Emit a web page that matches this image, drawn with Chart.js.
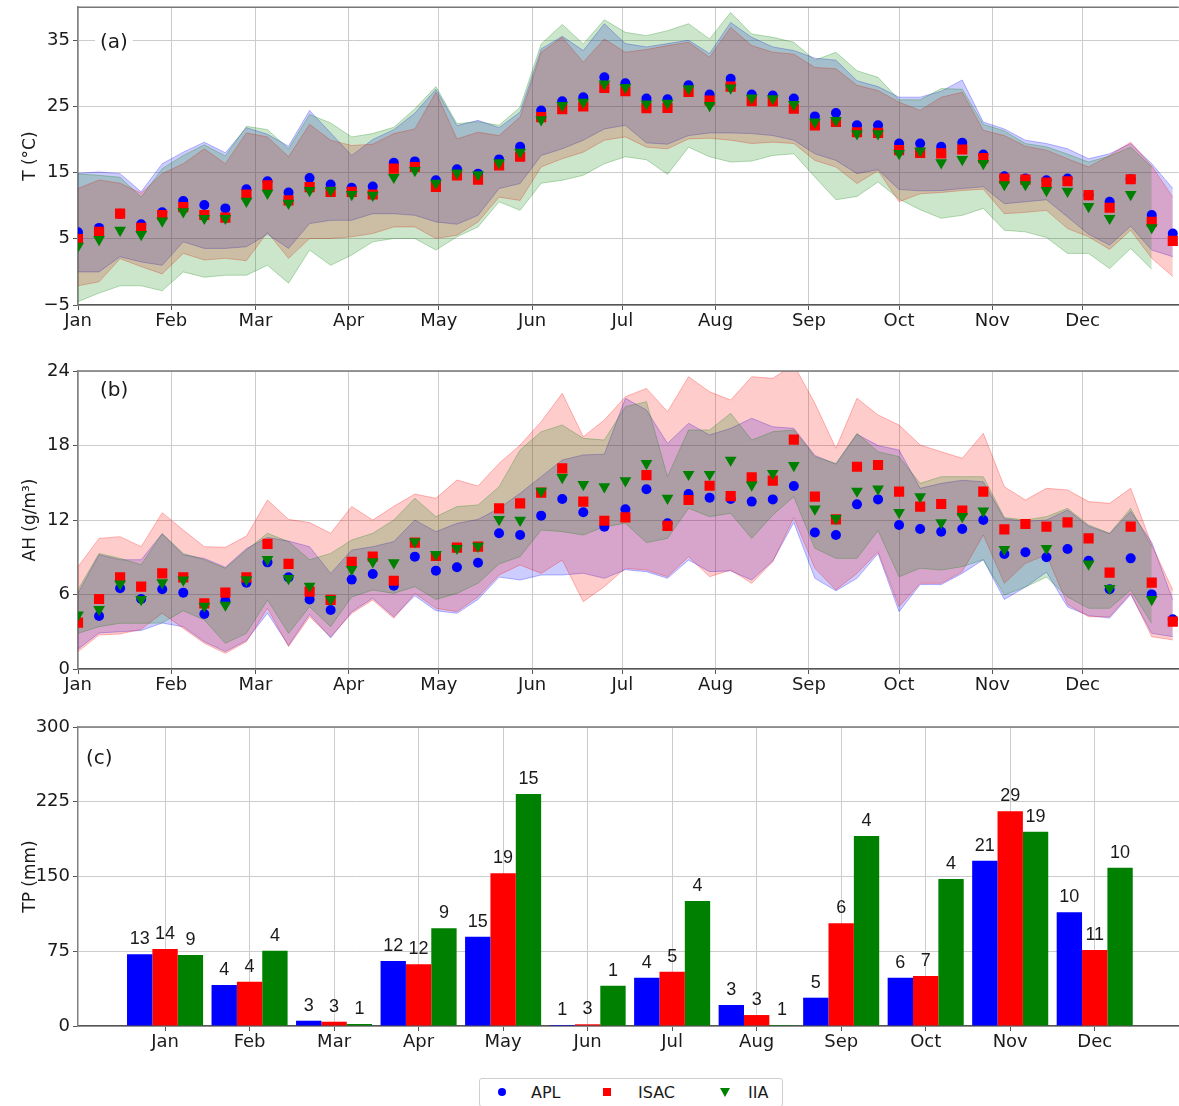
<!DOCTYPE html>
<html>
<head>
<meta charset="utf-8">
<title>Weekly temperature, absolute humidity and monthly precipitation</title>
<script src="https://cdn.jsdelivr.net/npm/chart.js@4.4.1/dist/chart.umd.min.js"></script>
<style>
  html, body { margin: 0; padding: 0; background: #fff; }
  #fig { position: relative; width: 1179px; height: 1106px; overflow: hidden; background: #fff; }
  #fig canvas { position: absolute; left: 0; }
  #legend {
    position: absolute; left: 479px; top: 1078px; width: 302px; height: 27px;
    border: 1px solid #cfcfcf; border-radius: 3px; background: #fff;
    font: 16px "DejaVu Sans", sans-serif; color: #1a1a1a;
  }
  #legend .item { position: absolute; top: 0; height: 27px; line-height: 27px; }
  #legend .mk { position: absolute; }
  .mk.circle { width: 8px; height: 8px; border-radius: 50%; background: #0000ff; top: 9px; }
  .mk.square { width: 8px; height: 8px; background: #ff0000; top: 9px; }
  .mk.tri { width: 0; height: 0; border-left: 5px solid transparent; border-right: 5px solid transparent; border-top: 9px solid #008000; top: 9px; }
</style>
</head>
<body>
<div id="fig">
  <canvas id="cT" width="1186" height="345" style="top:0px"></canvas>
  <canvas id="cAH" width="1186" height="345" style="top:360px"></canvas>
  <canvas id="cTP" width="1186" height="350" style="top:715px"></canvas>
  <div id="legend">
    <span class="mk circle" style="left:18px"></span><span class="item" style="left:51px">APL</span>
    <span class="mk square" style="left:123px"></span><span class="item" style="left:158px">ISAC</span>
    <span class="mk tri" style="left:240px"></span><span class="item" style="left:268px">IIA</span>
  </div>
</div>
<script>
// ---- calendar ----
const MONTHS = ['Jan', 'Feb', 'Mar', 'Apr', 'May', 'Jun', 'Jul', 'Aug', 'Sep', 'Oct', 'Nov', 'Dec'];
const MONTH_START_DAY = [0, 31, 59, 90, 120, 151, 181, 212, 243, 273, 304, 334];
const N_WEEKS = 53;
const WEEK_DAY = Array.from({ length: N_WEEKS }, (_, i) => i * 7);   // weekly samples from 1 Jan

// ---- (a) air temperature, weekly mean (°C) ----
const T_APL = [6.0, 6.65, 8.8, 7.2, 9.0, 10.7, 10.1, 9.6, 12.5, 13.7,
  12.0, 14.2, 13.2, 12.7, 12.9, 16.5, 16.7, 13.85, 15.5, 14.85,
  17.0, 18.9, 24.4, 25.8, 26.4, 29.4, 28.5, 26.2, 26.1, 28.2,
  26.8, 29.2, 26.8, 26.65, 26.2, 23.5, 24.0, 22.15, 22.15, 19.4,
  19.4, 18.9, 19.5, 17.75, 14.45, 14.1, 13.85, 14.1, 11.6, 10.6,
  14.0, 8.6, 5.8];
const T_ISAC = [4.95, 6.05, 8.8, 6.65, 8.6, 9.8, 8.6, 8.2, 11.7, 13.1,
  10.8, 12.8, 12.1, 12.1, 11.7, 15.6, 15.85, 12.85, 14.6, 13.95,
  16.1, 17.4, 23.4, 24.6, 25.0, 27.8, 27.3, 24.75, 24.8, 27.2,
  25.9, 28.0, 25.8, 25.75, 24.65, 22.15, 22.65, 21.1, 21.0, 18.4,
  18.0, 17.9, 18.5, 17.2, 14.1, 13.95, 13.5, 13.7, 11.6, 9.7,
  14.0, 7.55, 4.7];
const T_IIA = [3.9, 4.9, 6.3, 5.65, 7.7, 9.1, 8.1, 8.1, 10.7, 11.9,
  10.4, 12.3, 12.3, 11.7, 11.6, 14.3, 15.35, 13.4, 14.95, 14.7,
  16.5, 18.1, 23.0, 25.15, 25.65, 28.4, 27.9, 25.4, 25.5, 27.7,
  25.15, 27.8, 26.3, 26.2, 25.3, 22.65, 22.9, 20.9, 20.9, 17.9,
  18.3, 16.5, 17.0, 16.4, 13.2, 13.2, 12.3, 12.2, 9.9, 8.1,
  11.7, 6.7, null];

// weekly range (max / min)
const T_APL_MAX = [14.9, 15.1, 14.85, 12.1, 16.35, 18.1, 19.6, 18.0, 21.8, 20.8,
  19.0, 24.4, 21.0, 17.6, 20.0, 21.5, 24.0, 27.6, 22.1, 22.9,
  21.8, 24.15, 33.7, 35.6, 33.45, 37.5, 34.5, 34.0, 34.5, 35.0,
  33.0, 37.7, 35.45, 34.0, 33.45, 32.3, 32.0, 28.9, 28.0, 26.4,
  26.4, 27.3, 29.0, 22.65, 21.6, 19.9, 19.4, 18.6, 17.1, 17.85,
  19.4, 16.35, 12.6];
const T_APL_MIN = [0.0, 0.0, 2.3, 1.5, 1.0, 4.55, 3.55, 3.55, 3.8, 5.7,
  3.55, 7.3, 7.8, 7.8, 8.8, 8.8, 8.55, 7.55, 7.2, 8.55,
  12.6, 13.35, 17.6, 18.6, 19.9, 21.6, 22.15, 19.5, 19.3, 20.6,
  21.0, 21.0, 20.9, 20.6, 19.9, 17.85, 16.85, 14.85, 15.45, 12.45,
  12.25, 12.3, 12.6, 12.85, 10.3, 10.6, 10.9, 8.3, 5.7, 4.05,
  6.9, 3.3, 2.3];
const T_ISAC_MAX = [12.6, 13.9, 13.4, 11.9, 14.85, 16.35, 18.6, 16.35, 21.0, 20.4,
  17.4, 22.3, 19.9, 19.1, 19.3, 20.9, 21.6, 27.15, 20.1, 21.1,
  20.6, 23.4, 33.2, 35.45, 31.7, 35.2, 33.2, 33.6, 34.2, 34.7,
  32.45, 36.95, 34.2, 33.2, 32.9, 30.9, 30.7, 28.2, 27.4, 25.65,
  24.4, 26.4, 27.15, 21.4, 20.6, 19.0, 18.4, 17.1, 15.85, 17.6,
  19.6, 16.0, 11.3];
const T_ISAC_MIN = [-2.1, -1.5, 2.0, 0.8, -0.3, 2.8, 1.8, 2.05, 1.7, 6.0,
  2.05, 5.05, 5.05, 5.3, 5.8, 6.8, 6.8, 5.05, 5.55, 7.55,
  11.3, 10.8, 15.85, 17.1, 18.1, 19.9, 20.4, 18.85, 18.6, 20.1,
  20.2, 19.9, 19.4, 19.6, 19.4, 16.85, 15.85, 13.35, 15.3, 10.6,
  11.8, 12.0, 12.3, 12.5, 8.8, 9.0, 9.3, 6.55, 5.3, 3.4,
  6.3, 2.05, -0.7];
const T_IIA_MAX = [14.8, 14.6, 14.3, 11.3, 15.6, 17.6, 19.2, 17.5, 22.0, 21.5,
  18.6, 23.8, 22.5, 20.4, 20.9, 21.85, 24.65, 28.0, 22.4, 22.7,
  22.15, 24.9, 34.45, 37.4, 34.45, 38.1, 36.2, 35.7, 36.45, 37.5,
  35.2, 39.2, 35.95, 35.45, 34.7, 32.0, 33.2, 30.4, 29.4, 26.0,
  26.0, 27.7, 27.6, 22.3, 21.3, 19.4, 18.9, 17.8, 16.6, 17.5,
  18.85, 15.85, null];
const T_IIA_MIN = [-4.5, -3.2, -2.1, -2.1, -2.85, 0.0, -0.8, -0.5, -0.5, 1.0,
  -1.7, 3.3, 1.0, 2.55, 4.55, 5.05, 5.05, 3.3, 5.3, 6.8,
  10.6, 9.3, 13.4, 13.85, 14.6, 16.35, 17.4, 16.95, 14.75, 18.85,
  17.4, 16.6, 16.75, 17.6, 17.85, 14.35, 10.9, 11.4, 13.6, 11.0,
  9.4, 8.1, 8.55, 9.6, 6.3, 6.05, 5.2, 2.8, 2.8, 0.5,
  3.55, 0.4, null];

// ---- (b) absolute humidity, weekly mean (g/m3) ----
const AH_APL = [3.75, 4.27, 6.5, 5.64, 6.42, 6.15, 4.43, 5.5, 6.95, 8.59,
  7.38, 5.6, 4.75, 7.2, 7.65, 6.71, 9.05, 7.92, 8.19, 8.56,
  10.93, 10.79, 12.35, 13.69, 12.62, 11.46, 12.86, 14.47, 11.73, 14.09,
  13.8, 13.69, 13.48, 13.66, 14.74, 11.0, 10.79, 13.26, 13.66, 11.6,
  11.27, 11.06, 11.27, 12.0, 9.26, 9.4, 9.0, 9.66, 8.72, 6.42,
  8.91, 6.01, 4.0];
const AH_ISAC = [3.73, 5.64, 7.38, 6.63, 7.7, 7.38, 5.29, 6.15, 7.38, 10.07,
  8.46, 6.23, 5.56, 8.64, 9.05, 7.11, 10.18, 9.1, 9.77, 9.85,
  12.94, 13.34, 14.2, 16.16, 13.48, 11.94, 12.21, 15.62, 11.52, 13.61,
  14.76, 13.93, 15.43, 15.17, 18.47, 13.88, 12.05, 16.29, 16.43, 14.28,
  13.08, 13.29, 12.75, 14.28, 11.25, 11.68, 11.46, 11.81, 10.52, 7.76,
  11.46, 6.95, 3.81];
const AH_IIA = [4.35, 4.8, 6.85, 5.6, 6.95, 7.17, 5.07, 5.15, 7.2, 8.83,
  7.3, 6.68, 5.6, 8.03, 8.64, 8.56, 10.26, 9.23, 9.72, 9.9,
  12.05, 11.99, 14.33, 15.43, 14.87, 14.68, 15.17, 16.56, 13.75, 15.68,
  15.68, 16.83, 14.82, 15.76, 16.4, 12.89, 12.13, 14.33, 14.5, 12.62,
  13.88, 11.79, 12.29, 12.73, 9.64, null, 9.72, null, 8.46, 6.5,
  null, 5.6, null];

const AH_APL_MAX = [6.1, 9.2, 8.8, 8.8, 10.9, 9.2, 8.9, 8.2, 9.7, 10.6,
  10.3, 9.85, 7.7, 9.58, 9.85, 10.26, 12.0, 11.06, 11.73, 12.05,
  12.94, 14.15, 15.49, 16.83, 17.24, 17.3, 21.8, 20.86, 18.17, 19.79,
  18.85, 19.38, 20.19, 19.51, 19.38, 17.2, 16.5, 18.9, 18.0, 17.64,
  14.55, 14.95, 15.2, 15.08, 12.1, 11.9, 12.0, 12.8, 11.5, 10.9,
  12.7, 10.2, 5.56];
const AH_APL_MIN = [1.6, 2.9, 3.0, 3.1, 3.7, 3.4, 2.2, 1.4, 2.3, 4.5,
  1.9, 4.4, 2.5, 4.6, 5.7, 4.2, 5.9, 4.7, 4.48, 5.6,
  7.4, 7.17, 7.57, 7.57, 7.71, 7.3, 8.0, 7.84, 7.3, 8.78,
  7.84, 7.9, 7.17, 8.7, 11.8, 7.3, 6.3, 7.3, 9.3, 4.62,
  6.8, 6.8, 7.7, 8.8, 5.6, 6.6, 7.8, 5.0, 4.3, 4.1,
  6.0, 2.87, 2.6];
const AH_ISAC_MAX = [8.24, 10.52, 10.66, 9.85, 12.59, 11.19, 9.85, 9.8, 10.71, 13.61,
  12.05, 11.79, 10.93, 13.08, 12.0, 13.1, 14.09, 13.75, 15.22, 14.74,
  16.56, 18.04, 19.92, 22.2, 18.71, 20.05, 21.93, 22.6, 20.72, 23.54,
  22.33, 21.66, 23.54, 23.41, 24.5, 21.4, 17.77, 21.8, 20.46, 19.65,
  18.04, 17.5, 16.97, 18.98, 14.68, 13.61, 14.55, 14.42, 13.48, 13.34,
  14.55, 9.99, 6.36];
const AH_ISAC_MIN = [1.4, 2.74, 2.82, 3.2, 4.5, 3.27, 2.07, 1.26, 2.2, 4.89,
  1.8, 4.21, 2.6, 4.48, 5.56, 4.08, 6.09, 4.89, 4.62, 5.82,
  7.57, 8.38, 7.7, 8.78, 5.42, 6.63, 8.11, 7.97, 7.43, 9.05,
  7.43, 7.97, 6.9, 8.64, 12.2, 8.11, 6.36, 7.7, 9.45, 5.02,
  6.9, 6.9, 7.84, 10.8, 6.9, 8.51, 9.2, 5.2, 4.21, 4.21,
  6.1, 2.6, 2.34];
const AH_IIA_MAX = [6.4, 9.31, 8.91, 8.4, 10.9, 9.31, 8.8, 8.11, 9.58, 10.93,
  10.26, 8.8, 9.31, 10.39, 10.93, 12.0, 13.75, 12.27, 13.08, 13.21,
  14.68, 17.64, 19.11, 19.65, 18.58, 18.44, 21.12, 21.53, 15.49, 19.25,
  19.25, 20.59, 18.44, 19.11, 19.25, 17.1, 16.56, 18.98, 17.5, 17.1,
  14.95, 15.49, 15.49, 15.49, 12.2, 12.0, 12.27, 12.94, 11.6, 10.93,
  12.94, 9.85, null];
const AH_IIA_MIN = [2.87, 3.41, 3.68, 3.68, 3.7, 4.7, 3.95, 2.07, 2.87, 5.56,
  2.87, 5.02, 3.41, 5.8, 6.36, 6.09, 6.63, 5.6, 6.09, 6.9,
  8.46, 9.05, 11.19, 11.06, 10.79, 11.46, 11.73, 10.18, 10.52, 12.94,
  12.27, 12.54, 10.52, 12.4, 13.88, 9.72, 8.91, 8.91, 11.14, 7.43,
  8.11, 7.97, 8.24, 8.8, 5.96, 6.6, 7.4, 5.8, 4.89, 4.89,
  6.36, 3.68, null];

// ---- (c) monthly total precipitation (mm) and number of rainy days ----
const TP_APL  = [71.9, 41.1, 5.3, 65.2, 89.6, 1.0, 48.5, 21.1, 28.4, 48.5, 165.9, 114.1];
const TP_ISAC = [77.3, 44.5, 4.3, 61.9, 153.2, 1.7, 54.5, 11.0, 103.0, 50.2, 215.4, 76.3];
const TP_IIA  = [71.2, 75.5, 2.0, 98.0, 232.8, 40.4, 125.4, 1.0, 190.6, 147.5, 195.0, 158.9];
const DAYS_APL  = [13, 4, 3, 12, 15, 1, 4, 3, 5, 6, 21, 10];
const DAYS_ISAC = [14, 4, 3, 12, 19, 3, 5, 3, 6, 7, 29, 11];
const DAYS_IIA  = [9, 4, 1, 9, 15, 1, 4, 1, 4, 4, 19, 10];

const T_TICKS = [-5, 5, 15, 25, 35];
const AH_TICKS = [0, 6, 12, 18, 24];
const TP_TICKS = [0, 75, 150, 225, 300];

// ---- styling ----
Chart.defaults.font.family = "'DejaVu Sans', sans-serif";
Chart.defaults.font.size = 18;
Chart.defaults.color = '#1a1a1a';

const GRID = '#cccccc';
const RGB = { APL: '0,0,255', ISAC: '255,0,0', IIA: '0,128,0' };
const SOLID = { APL: '#0000ff', ISAC: '#ff0000', IIA: '#008000' };

const weekly = arr => arr.map((v, i) => ({ x: WEEK_DAY[i], y: v }));

// shaded min-max envelope: lower edge, then upper edge filled down to it
function band(name, hi, lo, order) {
  const edge = `rgba(${RGB[name]},0.28)`;
  return [
    { label: name + ' min', data: weekly(lo), borderColor: edge, borderWidth: 1,
      pointRadius: 0, fill: false, order, tension: 0 },
    { label: name + ' max', data: weekly(hi), borderColor: edge, borderWidth: 1,
      pointRadius: 0, backgroundColor: `rgba(${RGB[name]},0.2)`, fill: '-1', order, tension: 0 }
  ];
}

function markers(name, values, order) {
  const style = { APL: ['circle', 5, 0], ISAC: ['rect', 7.2, 0], IIA: ['triangle', 6.8, 180] }[name];
  return { label: name, data: weekly(values), showLine: false, order,
    pointStyle: style[0], pointRadius: style[1], pointRotation: style[2],
    pointBackgroundColor: SOLID[name], pointBorderWidth: 0, borderWidth: 0 };
}

// top spine and the panel tag
const panelDecor = {
  id: 'panelDecor',
  afterDraw(chart, args, opts) {
    const { ctx, chartArea: a } = chart;
    ctx.save();
    ctx.strokeStyle = '#777';
    ctx.lineWidth = 1.5;
    ctx.beginPath();
    ctx.moveTo(a.left, a.top);
    ctx.lineTo(a.right, a.top);
    ctx.stroke();
    ctx.font = "20px 'DejaVu Sans'";
    ctx.textBaseline = 'middle';
    const w = ctx.measureText(opts.text).width;
    const x = a.left + opts.dx, y = a.top + opts.dy;
    ctx.fillStyle = '#fff';
    ctx.fillRect(x - 5, y - 13, w + 10, 26);
    ctx.fillStyle = '#1a1a1a';
    ctx.fillText(opts.text, x, y);
    ctx.restore();
  }
};

// rainy-day counts written above each bar
const barCounts = {
  id: 'barCounts',
  afterDraw(chart, args, opts) {
    const ctx = chart.ctx;
    ctx.save();
    ctx.font = "18px 'Liberation Sans', Arial, sans-serif";
    ctx.fillStyle = '#1a1a1a';
    ctx.textAlign = 'center';
    ctx.textBaseline = 'alphabetic';
    chart.data.datasets.forEach((ds, di) => {
      chart.getDatasetMeta(di).data.forEach((bar, i) => {
        ctx.fillText(String(opts.counts[di][i]), bar.x, bar.y - 10);
      });
    });
    ctx.restore();
  }
};

function yScale(min, max, ticks, title) {
  return {
    min, max,
    afterBuildTicks: s => { s.ticks = ticks.map(v => ({ value: v })); },
    afterFit: s => { s.width = 78; s.paddingTop = 0; s.paddingBottom = 0; },
    ticks: { padding: 3, callback: v => String(v).replace('-', '\u2212') },
    grid: { color: GRID, lineWidth: 1, tickLength: 5, tickColor: '#555' },
    border: { color: '#808080', width: 1.5 },
    title: { display: true, text: title, font: { size: 17 }, padding: { top: 20, bottom: 0 } }
  };
}

function seasonalChart(id, opt) {
  return new Chart(document.getElementById(id), {
    type: 'line',
    data: { datasets: opt.datasets },
    options: {
      responsive: false, animation: false, events: [], devicePixelRatio: 1,
      layout: { padding: { top: opt.padTop, left: 0, right: 0, bottom: 0 } },
      plugins: { legend: { display: false }, tooltip: { enabled: false }, panelDecor: opt.tag },
      scales: {
        x: {
          type: 'linear', min: 0, max: 366,
          afterBuildTicks: s => { s.ticks = MONTH_START_DAY.map(v => ({ value: v })); },
          afterFit: s => { s.height = opt.xAxisHeight; s.paddingLeft = 0; s.paddingRight = 0; },
          ticks: { autoSkip: false, maxRotation: 0, padding: 1,
            callback: v => MONTHS[MONTH_START_DAY.indexOf(v)] },
          grid: { color: GRID, lineWidth: 1, tickLength: 5, tickColor: '#555' },
          border: { color: '#555', width: 1.5 }
        },
        y: yScale(opt.yMin, opt.yMax, opt.yTicks, opt.title)
      }
    },
    plugins: [panelDecor]
  });
}

// (a) temperature
seasonalChart('cT', {
  padTop: 7, xAxisHeight: 40, yMin: -5, yMax: 40, yTicks: T_TICKS, title: 'T (°C)',
  tag: { text: '(a)', dx: 22, dy: 36 },
  datasets: [
    ...band('APL', T_APL_MAX, T_APL_MIN, 30),
    ...band('ISAC', T_ISAC_MAX, T_ISAC_MIN, 20),
    ...band('IIA', T_IIA_MAX, T_IIA_MIN, 10),
    markers('APL', T_APL, 3),
    markers('ISAC', T_ISAC, 2),
    markers('IIA', T_IIA, 1)
  ]
});

// (b) absolute humidity
seasonalChart('cAH', {
  padTop: 11, xAxisHeight: 36, yMin: 0, yMax: 24, yTicks: AH_TICKS, title: 'AH (g/m³)',
  tag: { text: '(b)', dx: 22, dy: 20 },
  datasets: [
    ...band('APL', AH_APL_MAX, AH_APL_MIN, 30),
    ...band('ISAC', AH_ISAC_MAX, AH_ISAC_MIN, 20),
    ...band('IIA', AH_IIA_MAX, AH_IIA_MIN, 10),
    markers('APL', AH_APL, 3),
    markers('ISAC', AH_ISAC, 2),
    markers('IIA', AH_IIA, 1)
  ]
});

// (c) monthly precipitation
const monthly = arr => arr.map((v, i) => ({ x: i, y: v }));
new Chart(document.getElementById('cTP'), {
  type: 'bar',
  data: {
    datasets: [
      { label: 'APL', data: monthly(TP_APL), backgroundColor: SOLID.APL },
      { label: 'ISAC', data: monthly(TP_ISAC), backgroundColor: SOLID.ISAC },
      { label: 'IIA', data: monthly(TP_IIA), backgroundColor: SOLID.IIA }
    ]
  },
  options: {
    responsive: false, animation: false, events: [], devicePixelRatio: 1,
    layout: { padding: { top: 12, left: 0, right: 0, bottom: 0 } },
    datasets: { bar: { categoryPercentage: 0.9, barPercentage: 1.0, borderWidth: 0 } },
    plugins: {
      legend: { display: false }, tooltip: { enabled: false },
      panelDecor: { text: '(c)', dx: 8, dy: 32 },
      barCounts: { counts: [DAYS_APL, DAYS_ISAC, DAYS_IIA] }
    },
    scales: {
      x: {
        type: 'linear', min: -1.03, max: 12.08, offset: false, z: 1,
        afterBuildTicks: s => { s.ticks = MONTHS.map((_, i) => ({ value: i })); },
        afterFit: s => { s.height = 39; s.paddingLeft = 0; s.paddingRight = 0; },
        ticks: { autoSkip: false, maxRotation: 0, padding: 1, callback: v => MONTHS[v] },
        grid: { offset: false, color: GRID, lineWidth: 1, tickLength: 5, tickColor: '#555' },
        border: { color: '#555', width: 1.5 }
      },
      y: Object.assign(yScale(0, 300, TP_TICKS, 'TP (mm)'), { z: 1 })
    }
  },
  plugins: [panelDecor, barCounts]
});
</script>
</body>
</html>
